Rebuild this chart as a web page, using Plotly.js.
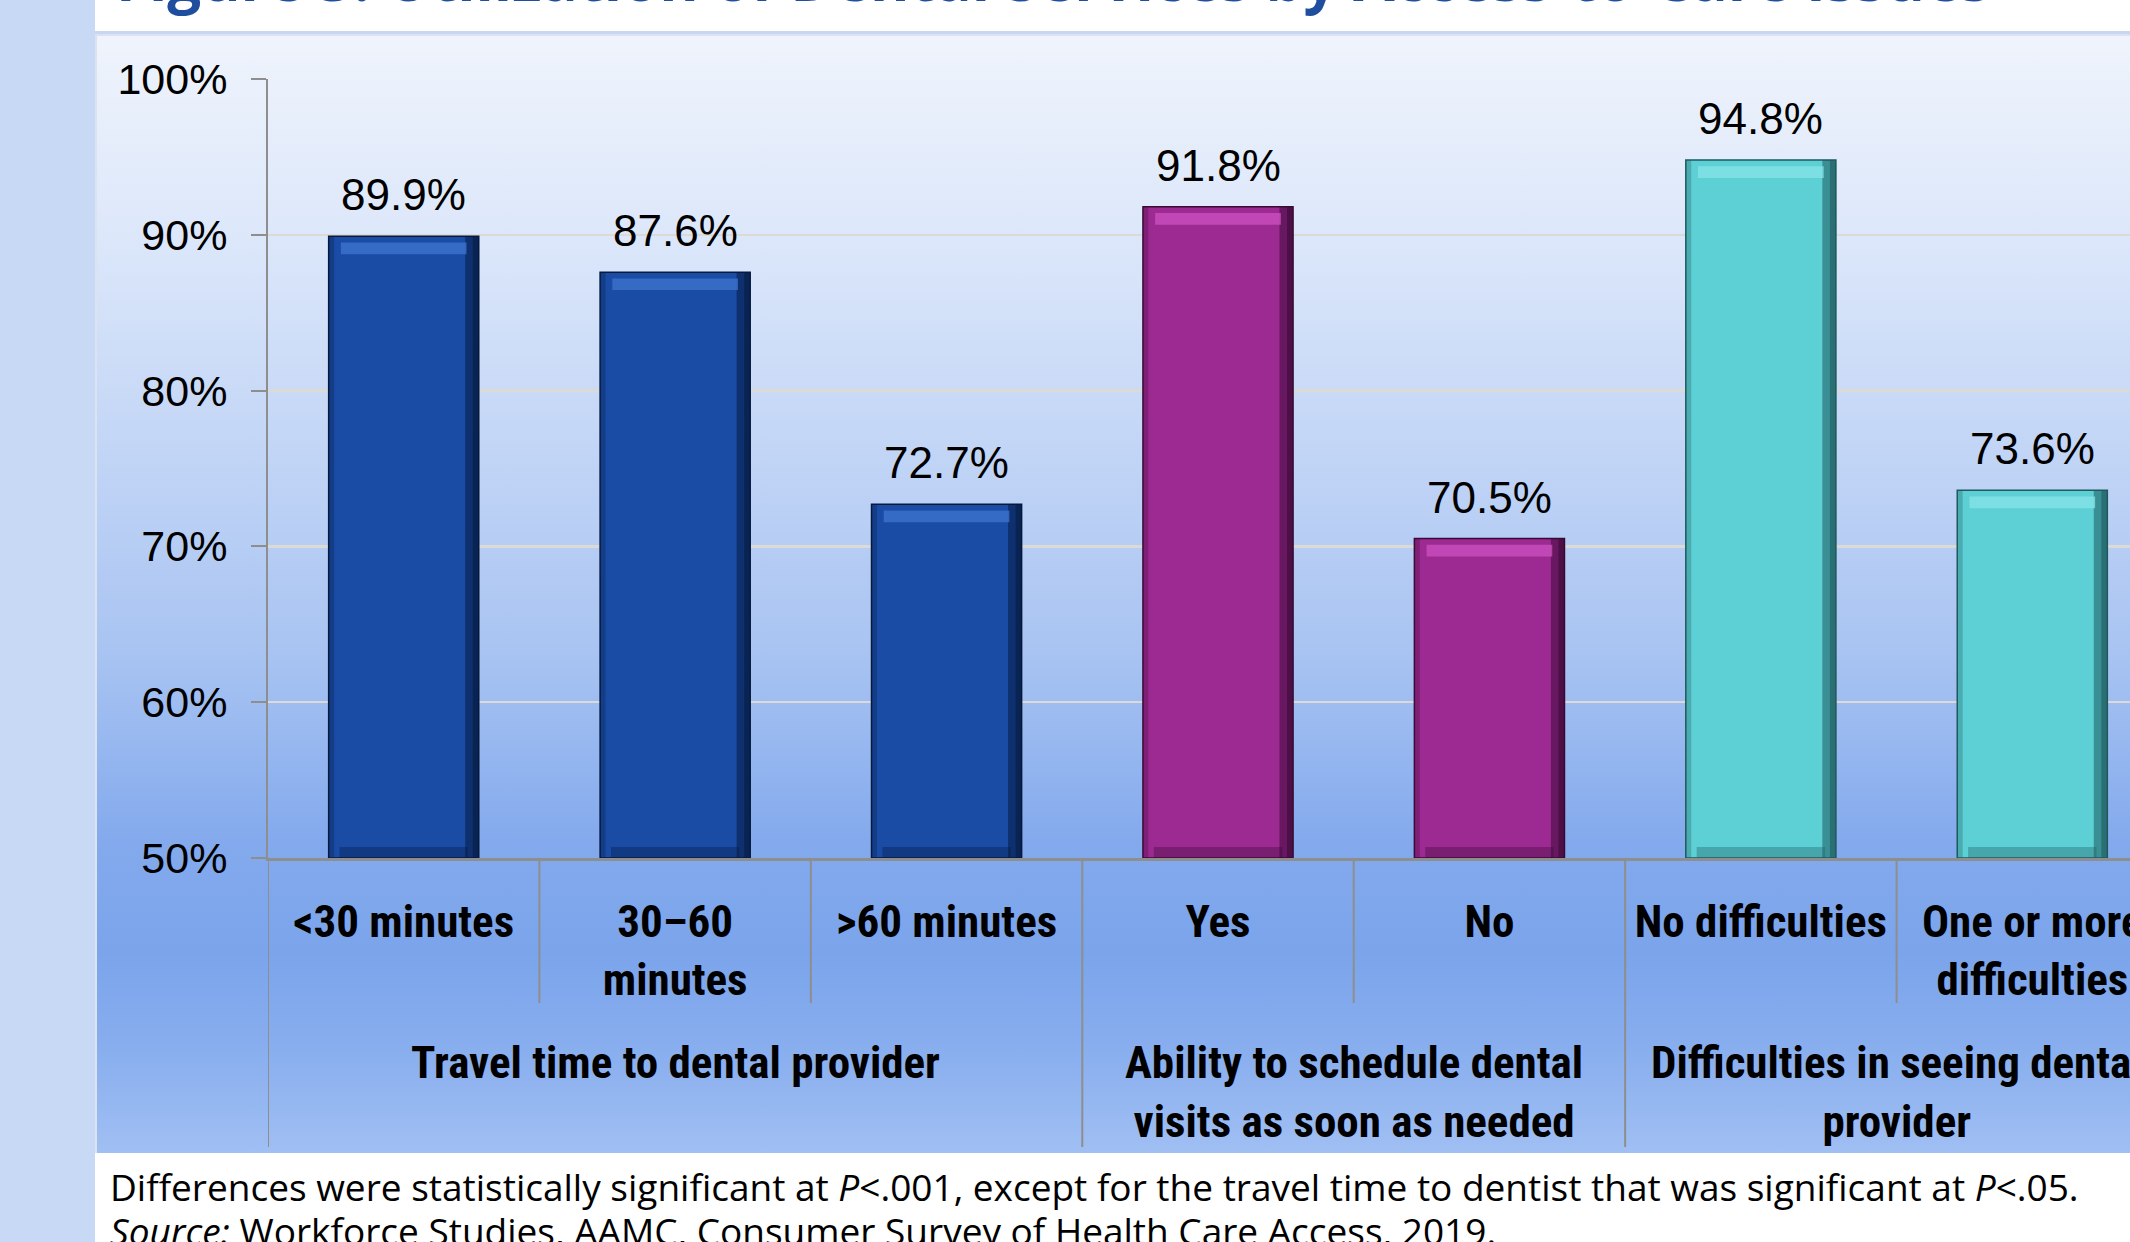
<!DOCTYPE html>
<html>
<head>
<meta charset="utf-8">
<script src="https://cdn.plot.ly/plotly-3.0.1.min.js"></script>
<style>
  html, body { margin:0; padding:0; width:2130px; height:1242px; overflow:hidden; background:#ffffff; }
  #strip { position:absolute; left:0; top:0; width:95px; height:1242px; background:#C8D9F5; }
  #band { position:absolute; left:95px; top:31px; width:2100px; height:3px; background:#C6D6F3; }
  #panel { position:absolute; left:95px; top:34px; width:2100px; height:1119px;
           border-left:2px solid #DCE3EF; border-top:2px solid #DCE3EF; box-sizing:border-box;
           background: linear-gradient(to bottom, #EFF4FC 0%, #DCE7FA 18%, #C9DAF7 32%, #A9C4F2 55%, #84AAED 72%, #7BA4EB 82%, #87ADEE 90%, #A0BFF3 100%); }
  #chart { position:absolute; left:0; top:0; width:2300px; height:1242px; }
</style>
</head>
<body>
<div id="strip"></div>
<div id="band"></div>
<div id="panel"></div>
<div id="chart"></div>
<script>
// ---- data ----
const categories = ['<30 minutes', '30\u201360<br>minutes', '>60 minutes', 'Yes', 'No', 'No difficulties', 'One or more<br>difficulties'];
const values = [89.9, 87.6, 72.7, 91.8, 70.5, 94.8, 73.6];
const groups = ['Travel time to dental provider', 'Ability to schedule dental<br>visits as soon as needed', 'Difficulties in seeing dental<br>provider'];
const groupOf = [0, 0, 0, 1, 1, 2, 2];
const yTickVals = [50, 60, 70, 80, 90, 100];
const yTickText = ['50%', '60%', '70%', '80%', '90%', '100%'];
const groupColors = ['#1A4CA6', '#9D2A92', '#5DD0D5'];
const groupLight = ['#3F74CF', '#CC52C0', '#86E4E8'];
const groupDark = ['#061A40', '#3A0A36', '#1E5A5E'];
const titleText = 'Figure 3. Utilization of Dental Services by Access-to-Care Issues';
const noteLine1 = 'Differences were statistically significant at <i>P</i>&lt;.001, except for the travel time to dentist that was significant at <i>P</i>&lt;.05.';
const noteLine2 = '<i>Source:</i> Workforce Studies, AAMC, Consumer Survey of Health Care Access, 2019.';

// ---- geometry ----
const FIG_W = 2300, FIG_H = 1242;
const plotLeft = 268, plotRight = 2168, plotTop = 79, plotBottom = 858;
const plotW = plotRight - plotLeft, plotH = plotBottom - plotTop;
const py = p => (plotBottom - p) / plotH;
const px = p => (p - plotLeft) / plotW;

const idx = categories.map((c, i) => i);
const BW = 0.553;
const colors = idx.map(i => groupColors[groupOf[i]]);
const lights = idx.map(i => groupLight[groupOf[i]]);
const darks = idx.map(i => groupDark[groupOf[i]]);
const labelFont = 'Liberation Sans Narrow, Arial Narrow, Roboto Condensed, DejaVu Sans Condensed, sans-serif';
const numFont = 'Liberation Sans, Arial, sans-serif';

const traces = [
  { type:'bar', x: categories, y: values.map(v => v - 50), base: 50, width: BW,
    marker:{ color: colors, line:{ color: darks, width: 1.5 } }, hoverinfo:'skip' },
  // right edge shadow
  { type:'bar', x: categories, y: values.map(v => v - 50), base: 50, width: 0.05, offset: BW/2 - 0.05,
    marker:{ color: darks, opacity: 0.55 }, hoverinfo:'skip' },
  { type:'bar', x: categories, y: values.map(v => v - 50), base: 50, width: 0.022, offset: BW/2 - 0.022,
    marker:{ color: darks, opacity: 0.6 }, hoverinfo:'skip' },
  // left edge shadow
  { type:'bar', x: categories, y: values.map(v => v - 50), base: 50, width: 0.02, offset: -BW/2,
    marker:{ color: darks, opacity: 0.3 }, hoverinfo:'skip' },
  // top highlight
  { type:'bar', x: categories, y: values.map(() => 0.75), base: values.map(v => v - 1.15), width: BW - 0.09, offset: -BW/2 + 0.045,
    marker:{ color: lights, opacity: 0.75 }, hoverinfo:'skip' },
  // bottom shadow
  { type:'bar', x: categories, y: values.map(() => 0.7), base: 50, width: BW - 0.08, offset: -BW/2 + 0.04,
    marker:{ color: darks, opacity: 0.35 }, hoverinfo:'skip' }
];

const shapes = [];
for (let b = 0; b <= categories.length; b++) {
  const isGroupEdge = (b === 0 || b === categories.length || groupOf[b] !== groupOf[b - 1]);
  shapes.push({ type:'line', xref:'x', yref:'paper', x0: b - 0.5, x1: b - 0.5,
    y0: 0, y1: isGroupEdge ? py(1147) : py(1003), line:{ color:'#8E8E8E', width:2 } });
}

const annotations = [];
values.forEach((v, i) => {
  annotations.push({ x: categories[i], y: v, xref:'x', yref:'y', text: v.toFixed(1) + '%',
    showarrow:false, yanchor:'bottom', yshift: 15, font:{ family: numFont, size: 44, color:'#000' } });
});
groups.forEach((g, gi) => {
  const members = idx.filter(i => groupOf[i] === gi);
  const center = (members[0] + members[members.length - 1]) / 2;
  annotations.push({ x: center, y: py(1034), xref:'x', yref:'paper', text: g, showarrow:false,
    yanchor:'top', xanchor:'center', align:'center',
    font:{ family: labelFont, size: 45, color:'#000', weight: 700 } });
});
annotations.push({ xref:'paper', yref:'paper', x: px(114), y: py(21), xanchor:'left', yanchor:'bottom',
  text: '<b>' + titleText + '</b>', showarrow:false, font:{ family:'Open Sans, sans-serif', size: 60, color:'#1F4E9F' } });
annotations.push({ xref:'paper', yref:'paper', x: px(108), y: py(1186), xanchor:'left', yanchor:'middle',
  text: noteLine1, showarrow:false, font:{ family:'Open Sans, sans-serif', size: 37, color:'#000' } });
annotations.push({ xref:'paper', yref:'paper', x: px(108), y: py(1230), xanchor:'left', yanchor:'middle',
  text: noteLine2, showarrow:false, font:{ family:'Open Sans, sans-serif', size: 37, color:'#000' } });

const layout = {
  width: FIG_W, height: FIG_H,
  margin: { l: plotLeft, r: FIG_W - plotRight, t: plotTop, b: FIG_H - plotBottom },
  paper_bgcolor: 'rgba(0,0,0,0)', plot_bgcolor: 'rgba(0,0,0,0)',
  barmode: 'overlay', showlegend: false,
  xaxis: { type:'category', range:[-0.5, categories.length - 0.5], showline:true, linecolor:'#8E8E8E', linewidth:2.5,
    showgrid:false, ticks:'', ticklabelstandoff: 22, automargin:false,
    tickfont:{ family: labelFont, size: 45, color:'#000', weight: 700 } },
  yaxis: { range:[50, 100], tickvals: yTickVals, ticktext: yTickText, showline:true, linecolor:'#8E8E8E', linewidth:2,
    ticks:'outside', ticklen:15, tickwidth:2, tickcolor:'#8E8E8E', ticklabelstandoff: 15,
    gridcolor:'#DCDAD4', gridwidth:2.5, zeroline:false, automargin:false,
    tickfont:{ family: numFont, size: 43, color:'#000' } },
  shapes: shapes, annotations: annotations
};

Plotly.newPlot('chart', traces, layout, { staticPlot: true, displayModeBar: false });
</script>
</body>
</html>
